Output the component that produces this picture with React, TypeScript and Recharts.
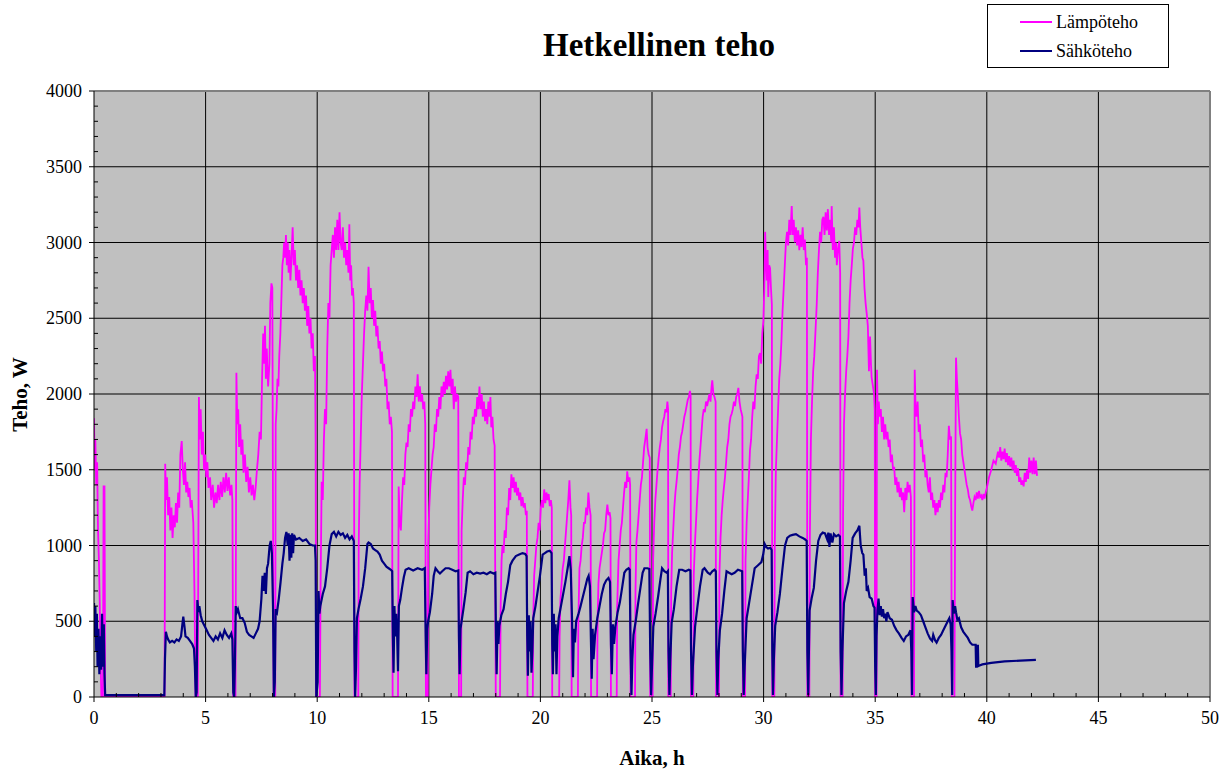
import { CartesianGrid, Line, LineChart, ReferenceLine, XAxis, YAxis } from 'recharts'

const HEAT = '#FF00FF'
const ELEC = '#000080'
const FONT = '"Liberation Serif", "Times New Roman", serif'

// major labelled ticks
const xMajor = [0, 5, 10, 15, 20, 25, 30, 35, 40, 45, 50]
const yMajor = [0, 500, 1000, 1500, 2000, 2500, 3000, 3500, 4000]
// all tick marks (minor every 1 h / 100 W)
const xTicks = Array.from({ length: 51 }, (_, i) => i)
const yTicks = Array.from({ length: 41 }, (_, i) => i * 100)

const seriesNames = ['Lämpöteho', 'Sähköteho']

// Lämpöteho, [aika h, teho W]
const heatPoints: [number, number][] = [
  [0, 1840], [0.03, 1500], [0.06, 1700], [0.1, 1400], [0.14, 1550], [0.18, 1100], [0.22, 900], [0.26, 600], [0.3, 200], [0.33, 0], [0.4, 0], [0.43, 1390], [0.47, 1390], [0.5, 0], [3.16, 0],
  [3.19, 1540], [3.23, 1300], [3.27, 1450], [3.32, 1200], [3.37, 1320], [3.42, 1100], [3.47, 1250], [3.52, 1050], [3.57, 1200], [3.62, 1120], [3.67, 1280], [3.72, 1150], [3.77, 1350], [3.82, 1250], [3.87, 1600], [3.93, 1690], [3.98, 1500], [4.03, 1400], [4.08, 1550], [4.13, 1350], [4.18, 1420], [4.23, 1320], [4.28, 1380], [4.33, 1250], [4.38, 1300], [4.45, 1150], [4.5, 700], [4.55, 0], [4.65, 0],
  [4.7, 1980], [4.74, 1700], [4.78, 1900], [4.83, 1600], [4.88, 1750], [4.93, 1500], [4.98, 1600], [5.03, 1450], [5.08, 1550], [5.13, 1380], [5.2, 1450], [5.25, 1300], [5.32, 1400], [5.38, 1250], [5.44, 1350], [5.5, 1280], [5.56, 1400], [5.62, 1300], [5.68, 1420], [5.74, 1320], [5.8, 1450], [5.86, 1350], [5.92, 1480], [5.98, 1360], [6.04, 1450], [6.1, 1330], [6.16, 1400], [6.2, 1300], [6.24, 0], [6.34, 0],
  [6.38, 2140], [6.42, 1800], [6.46, 1900], [6.5, 1650], [6.55, 1800], [6.6, 1600], [6.65, 1700], [6.7, 1480], [6.76, 1600], [6.82, 1420], [6.88, 1520], [6.94, 1350], [7.0, 1450], [7.06, 1330], [7.12, 1400], [7.18, 1300], [7.24, 1380], [7.3, 1500], [7.36, 1600], [7.42, 1750], [7.48, 1700], [7.53, 2100], [7.58, 2400], [7.62, 2200], [7.66, 2450], [7.7, 2100], [7.74, 2300], [7.8, 2050], [7.86, 2200], [7.9, 2600], [7.95, 2730], [7.99, 2700], [8.02, 1200], [8.05, 0], [8.12, 0],
  [8.14, 1800], [8.18, 1900], [8.22, 2100], [8.26, 2050], [8.3, 2250], [8.35, 2400], [8.4, 2650], [8.44, 2850], [8.48, 2900], [8.52, 3000], [8.56, 2900], [8.6, 3050], [8.64, 2850], [8.68, 3000], [8.72, 2800], [8.76, 2950], [8.8, 2750], [8.85, 2900], [8.9, 3100], [8.95, 2850], [9.0, 2950], [9.05, 2750], [9.1, 2850], [9.15, 2700], [9.2, 2820], [9.25, 2650], [9.3, 2750], [9.35, 2600], [9.4, 2700], [9.45, 2550], [9.5, 2650], [9.55, 2450], [9.6, 2580], [9.65, 2400], [9.7, 2500], [9.75, 2300], [9.8, 2400], [9.85, 2150], [9.9, 2250], [9.93, 1700], [9.95, 0], [10.12, 0],
  [10.15, 700], [10.2, 1420], [10.25, 1300], [10.3, 1700], [10.35, 1900], [10.4, 1800], [10.45, 2300], [10.5, 2600], [10.55, 2500], [10.6, 2850], [10.65, 2950], [10.7, 3050], [10.75, 2900], [10.8, 3100], [10.85, 2950], [10.9, 3150], [10.95, 2950], [11.0, 3200], [11.05, 3000], [11.1, 2950], [11.15, 3100], [11.2, 2900], [11.25, 3000], [11.3, 2850], [11.35, 2950], [11.4, 2800], [11.44, 3120], [11.48, 2750], [11.52, 2850], [11.56, 2650], [11.6, 2700], [11.64, 2600], [11.67, 0], [11.84, 0],
  [11.86, 1000], [11.9, 1400], [11.95, 1700], [12.0, 2000], [12.05, 2200], [12.1, 2400], [12.15, 2550], [12.2, 2650], [12.25, 2550], [12.3, 2840], [12.35, 2600], [12.4, 2700], [12.45, 2500], [12.5, 2620], [12.55, 2450], [12.6, 2550], [12.65, 2380], [12.7, 2450], [12.75, 2300], [12.8, 2350], [12.85, 2200], [12.9, 2280], [12.95, 2150], [13.0, 2200], [13.05, 2050], [13.1, 2100], [13.15, 1900], [13.2, 1950], [13.25, 1800], [13.3, 1850], [13.35, 1750], [13.38, 0], [13.62, 0],
  [13.65, 1390], [13.7, 1150], [13.75, 1100], [13.8, 1300], [13.85, 1450], [13.9, 1400], [13.95, 1600], [14.0, 1680], [14.05, 1650], [14.1, 1800], [14.15, 1750], [14.2, 1900], [14.25, 1850], [14.3, 1950], [14.35, 1900], [14.4, 2050], [14.45, 1980], [14.5, 2130], [14.55, 1950], [14.6, 2050], [14.65, 1950], [14.7, 2000], [14.75, 1900], [14.8, 1950], [14.84, 1800], [14.87, 0], [14.95, 0],
  [14.97, 1000], [15.02, 1250], [15.07, 1400], [15.12, 1500], [15.17, 1600], [15.22, 1650], [15.27, 1800], [15.32, 1750], [15.37, 1900], [15.42, 1850], [15.47, 1980], [15.52, 1900], [15.57, 2050], [15.62, 1980], [15.67, 2080], [15.72, 2000], [15.77, 2120], [15.82, 2030], [15.87, 2150], [15.92, 2050], [15.97, 2160], [16.02, 2000], [16.07, 2100], [16.12, 1900], [16.17, 2050], [16.22, 1950], [16.27, 2000], [16.32, 1980], [16.35, 0], [16.45, 0],
  [16.47, 1100], [16.52, 1300], [16.57, 1450], [16.62, 1400], [16.67, 1550], [16.72, 1500], [16.77, 1650], [16.82, 1600], [16.87, 1750], [16.92, 1700], [16.97, 1850], [17.02, 1800], [17.07, 1900], [17.12, 1850], [17.17, 1980], [17.22, 1900], [17.27, 2050], [17.32, 1900], [17.37, 2000], [17.42, 1850], [17.47, 1950], [17.52, 1820], [17.57, 1900], [17.62, 1800], [17.67, 1950], [17.72, 1850], [17.76, 1980], [17.8, 1780], [17.85, 1850], [17.9, 1700], [17.95, 1660], [18.0, 0], [18.19, 0],
  [18.22, 600], [18.26, 900], [18.3, 1000], [18.35, 950], [18.4, 1100], [18.45, 1050], [18.5, 1250], [18.55, 1200], [18.6, 1380], [18.65, 1300], [18.7, 1470], [18.75, 1380], [18.8, 1450], [18.85, 1350], [18.9, 1420], [18.95, 1330], [19.0, 1380], [19.05, 1300], [19.1, 1350], [19.15, 1260], [19.2, 1320], [19.25, 1250], [19.3, 1280], [19.35, 1200], [19.39, 1230], [19.42, 0], [19.66, 0],
  [19.68, 500], [19.72, 800], [19.77, 900], [19.82, 1000], [19.87, 1050], [19.92, 1150], [19.97, 1100], [20.02, 1250], [20.07, 1300], [20.12, 1250], [20.17, 1370], [20.22, 1280], [20.27, 1350], [20.32, 1300], [20.37, 1340], [20.42, 1260], [20.47, 1300], [20.51, 1250], [20.53, 0], [20.84, 0],
  [20.86, 400], [20.9, 650], [20.95, 750], [21.0, 850], [21.05, 900], [21.1, 1000], [21.15, 1100], [21.2, 1200], [21.25, 1300], [21.3, 1430], [21.35, 1250], [21.38, 1200], [21.4, 0], [21.68, 0],
  [21.7, 500], [21.75, 850], [21.8, 900], [21.85, 1000], [21.9, 1050], [21.95, 1150], [22.0, 1150], [22.05, 1250], [22.1, 1200], [22.15, 1350], [22.2, 1250], [22.25, 1200], [22.27, 0], [22.54, 0],
  [22.56, 500], [22.6, 750], [22.65, 850], [22.7, 900], [22.75, 950], [22.8, 1000], [22.85, 1080], [22.9, 1100], [22.95, 1200], [23.0, 1270], [23.05, 1200], [23.1, 1220], [23.14, 1180], [23.16, 0], [23.42, 0],
  [23.44, 600], [23.5, 900], [23.55, 1000], [23.6, 1100], [23.65, 1150], [23.7, 1250], [23.75, 1350], [23.8, 1420], [23.85, 1380], [23.89, 1490], [23.94, 1420], [23.99, 1450], [24.02, 1400], [24.04, 0], [24.24, 0],
  [24.26, 700], [24.3, 1020], [24.35, 1100], [24.4, 1200], [24.45, 1300], [24.5, 1400], [24.55, 1450], [24.6, 1550], [24.65, 1650], [24.7, 1700], [24.76, 1770], [24.8, 1650], [24.85, 1600], [24.9, 1580], [24.92, 0], [25.03, 0],
  [25.05, 900], [25.1, 1150], [25.15, 1300], [25.2, 1400], [25.25, 1500], [25.3, 1580], [25.35, 1650], [25.4, 1700], [25.45, 1780], [25.5, 1820], [25.55, 1850], [25.6, 1900], [25.65, 1880], [25.69, 1950], [25.72, 1900], [25.73, 0], [25.84, 0],
  [25.86, 700], [25.9, 950], [25.95, 1100], [26.0, 1250], [26.05, 1350], [26.1, 1420], [26.15, 1500], [26.2, 1600], [26.25, 1650], [26.3, 1720], [26.35, 1750], [26.4, 1800], [26.45, 1850], [26.5, 1880], [26.55, 1920], [26.6, 1960], [26.65, 1980], [26.7, 2020], [26.73, 1990], [26.75, 0], [26.85, 0],
  [26.87, 800], [26.92, 1000], [26.97, 1150], [27.02, 1300], [27.07, 1420], [27.12, 1550], [27.17, 1650], [27.22, 1750], [27.27, 1850], [27.32, 1900], [27.37, 1880], [27.42, 1950], [27.47, 1920], [27.52, 1960], [27.57, 2000], [27.62, 1950], [27.67, 2050], [27.7, 2090], [27.75, 2000], [27.8, 1980], [27.85, 1950], [27.87, 0], [28.0, 0],
  [28.02, 800], [28.07, 1050], [28.12, 1200], [28.17, 1300], [28.22, 1380], [28.27, 1450], [28.32, 1550], [28.37, 1650], [28.42, 1700], [28.47, 1800], [28.52, 1850], [28.57, 1870], [28.62, 1900], [28.67, 1950], [28.72, 1920], [28.77, 1980], [28.82, 2000], [28.87, 2040], [28.92, 1950], [28.97, 1900], [29.02, 1870], [29.05, 1850], [29.07, 0], [29.17, 0],
  [29.19, 900], [29.24, 1150], [29.29, 1300], [29.34, 1450], [29.39, 1630], [29.44, 1700], [29.49, 1850], [29.54, 1950], [29.59, 1900], [29.64, 2050], [29.69, 2130], [29.74, 2100], [29.79, 2250], [29.84, 2270], [29.89, 2200], [29.94, 2400], [29.99, 2480], [30.03, 2700], [30.07, 3070], [30.1, 2900], [30.14, 2750], [30.18, 2950], [30.21, 2640], [30.25, 2850], [30.29, 2830], [30.33, 2700], [30.37, 2590], [30.39, 0], [30.48, 0],
  [30.5, 1000], [30.55, 1500], [30.6, 1700], [30.65, 1900], [30.7, 2100], [30.75, 2200], [30.8, 2350], [30.85, 2550], [30.9, 2700], [30.95, 2850], [31.0, 3000], [31.05, 3070], [31.1, 2980], [31.15, 3150], [31.2, 3050], [31.26, 3240], [31.3, 3050], [31.35, 3150], [31.4, 3000], [31.45, 3100], [31.5, 2980], [31.55, 3080], [31.6, 2950], [31.65, 3050], [31.7, 2970], [31.75, 3100], [31.8, 2950], [31.85, 3020], [31.9, 2850], [31.94, 2900], [31.96, 0], [32.05, 0],
  [32.07, 1000], [32.12, 1700], [32.17, 1950], [32.22, 2150], [32.27, 2250], [32.32, 2400], [32.38, 2590], [32.43, 2800], [32.48, 2950], [32.53, 3070], [32.58, 3000], [32.63, 3150], [32.68, 3170], [32.73, 3050], [32.78, 3200], [32.83, 3080], [32.88, 3220], [32.93, 3050], [32.98, 3150], [33.03, 3000], [33.05, 3240], [33.1, 2950], [33.15, 3100], [33.2, 2900], [33.25, 3000], [33.28, 2850], [33.33, 2950], [33.39, 3010], [33.43, 2800], [33.45, 0], [33.54, 0],
  [33.56, 1200], [33.6, 1800], [33.65, 2000], [33.7, 2150], [33.75, 2250], [33.8, 2380], [33.85, 2600], [33.9, 2750], [33.95, 2850], [34.0, 2960], [34.05, 3000], [34.1, 3100], [34.15, 3050], [34.2, 3150], [34.25, 3100], [34.29, 3230], [34.33, 3100], [34.38, 3000], [34.43, 2900], [34.47, 2880], [34.52, 2700], [34.57, 2600], [34.62, 2530], [34.67, 2450], [34.72, 2150], [34.77, 2380], [34.81, 2200], [34.84, 2110], [34.9, 2050], [34.95, 2000], [34.98, 1900], [35.0, 0], [35.06, 0],
  [35.08, 2160], [35.12, 1800], [35.16, 1950], [35.2, 1850], [35.25, 1900], [35.3, 1750], [35.35, 1850], [35.4, 1700], [35.45, 1800], [35.5, 1700], [35.55, 1750], [35.6, 1650], [35.65, 1700], [35.7, 1550], [35.75, 1600], [35.8, 1500], [35.85, 1520], [35.9, 1400], [35.95, 1450], [36.0, 1350], [36.05, 1420], [36.1, 1320], [36.15, 1380], [36.2, 1300], [36.25, 1350], [36.3, 1220], [36.35, 1380], [36.4, 1300], [36.45, 1420], [36.5, 1350], [36.55, 1400], [36.6, 1320], [36.63, 0], [36.74, 0],
  [36.77, 2160], [36.81, 1900], [36.85, 1850], [36.9, 1950], [36.95, 1750], [37.0, 1800], [37.05, 1650], [37.1, 1700], [37.15, 1550], [37.2, 1600], [37.25, 1450], [37.3, 1500], [37.35, 1400], [37.4, 1350], [37.45, 1450], [37.5, 1300], [37.55, 1350], [37.6, 1250], [37.65, 1300], [37.7, 1200], [37.75, 1280], [37.8, 1220], [37.85, 1300], [37.9, 1250], [37.95, 1350], [38.0, 1300], [38.05, 1400], [38.1, 1350], [38.15, 1480], [38.2, 1450], [38.25, 1600], [38.3, 1790], [38.35, 1700], [38.4, 1720], [38.43, 0], [38.55, 0],
  [38.58, 1200], [38.62, 2240], [38.66, 2100], [38.7, 2000], [38.75, 1850], [38.8, 1740], [38.85, 1700], [38.9, 1600], [38.95, 1550], [39.0, 1500], [39.05, 1450], [39.1, 1400], [39.15, 1370], [39.2, 1320], [39.25, 1300], [39.3, 1260], [39.35, 1230], [39.4, 1280], [39.45, 1320], [39.5, 1300], [39.55, 1350], [39.6, 1310], [39.65, 1360], [39.7, 1320], [39.75, 1330], [39.8, 1300], [39.85, 1340], [39.9, 1310], [39.95, 1350], [40.0, 1380], [40.1, 1450], [40.2, 1500], [40.3, 1560], [40.4, 1540], [40.5, 1620], [40.55, 1580], [40.6, 1650], [40.65, 1560], [40.7, 1620], [40.75, 1570], [40.8, 1640], [40.85, 1550], [40.9, 1610], [40.95, 1530], [41.0, 1590], [41.05, 1520], [41.1, 1580], [41.15, 1500], [41.2, 1560], [41.25, 1480], [41.3, 1530], [41.35, 1460], [41.4, 1510], [41.45, 1420], [41.5, 1450], [41.55, 1400], [41.6, 1430], [41.65, 1390], [41.7, 1480], [41.75, 1420], [41.8, 1500], [41.85, 1440], [41.9, 1580], [41.95, 1480], [42.0, 1560], [42.05, 1470], [42.1, 1580], [42.15, 1470], [42.2, 1560], [42.25, 1460],
]

// Sähköteho, [aika h, teho W]
const elecPoints: [number, number][] = [
  [0, 620], [0.03, 400], [0.06, 600], [0.1, 300], [0.13, 550], [0.16, 200], [0.2, 450], [0.24, 150], [0.28, 400], [0.32, 180], [0.36, 550], [0.4, 200], [0.44, 480], [0.47, 150], [0.5, 13], [3.15, 13],
  [3.18, 250], [3.22, 430], [3.27, 400], [3.32, 380], [3.4, 360], [3.5, 370], [3.6, 360], [3.7, 380], [3.8, 370], [3.9, 400], [3.96, 480], [4.0, 530], [4.05, 470], [4.1, 400], [4.2, 390], [4.3, 370], [4.4, 350], [4.48, 320], [4.52, 200], [4.56, 0], [4.6, 30], [4.63, 640], [4.68, 560], [4.72, 600], [4.78, 540], [4.85, 500], [4.95, 470], [5.05, 440], [5.15, 410], [5.25, 390], [5.35, 370], [5.45, 400], [5.55, 380], [5.65, 420], [5.75, 390], [5.85, 440], [5.95, 410], [6.05, 390], [6.15, 420], [6.2, 380], [6.24, 30], [6.28, 0], [6.31, 200],
  [6.35, 600], [6.4, 560], [6.45, 580], [6.55, 520], [6.65, 520], [6.75, 490], [6.85, 430], [6.95, 410], [7.05, 400], [7.15, 390], [7.25, 420], [7.35, 450], [7.42, 500], [7.5, 650], [7.55, 800], [7.6, 700], [7.65, 820], [7.7, 680], [7.75, 850], [7.8, 880], [7.87, 1000], [7.92, 1030], [7.97, 950], [8.02, 600], [8.06, 0], [8.1, 100],
  [8.14, 580], [8.2, 560], [8.28, 650], [8.36, 760], [8.44, 880], [8.5, 950], [8.56, 1050], [8.62, 1090], [8.68, 1000], [8.72, 1080], [8.76, 900], [8.8, 1070], [8.84, 920], [8.88, 1080], [8.92, 950], [8.96, 1070], [9.05, 1040], [9.2, 1050], [9.35, 1030], [9.5, 1040], [9.65, 1010], [9.8, 1000], [9.9, 1000], [9.93, 900], [9.96, 0], [10.02, 100],
  [10.06, 700], [10.1, 550], [10.14, 600], [10.25, 680], [10.35, 730], [10.45, 850], [10.55, 1000], [10.65, 1075], [10.75, 1090], [10.85, 1060], [10.95, 1090], [11.05, 1070], [11.15, 1080], [11.25, 1050], [11.35, 1070], [11.45, 1040], [11.55, 1060], [11.64, 1030], [11.67, 300], [11.7, 0], [11.74, 200],
  [11.78, 520], [11.85, 580], [11.95, 650], [12.05, 730], [12.15, 850], [12.25, 1010], [12.3, 1020], [12.4, 1010], [12.5, 980], [12.6, 970], [12.7, 960], [12.8, 940], [12.9, 900], [13.0, 880], [13.1, 860], [13.2, 850], [13.3, 840], [13.36, 830], [13.39, 400], [13.42, 160], [13.46, 600], [13.5, 400], [13.54, 550], [13.58, 420], [13.62, 170],
  [13.66, 600], [13.72, 640], [13.8, 720], [13.88, 790], [13.96, 840], [14.1, 850], [14.3, 835], [14.5, 850], [14.7, 840], [14.82, 850], [14.86, 400], [14.89, 150], [14.93, 450],
  [14.97, 500], [15.05, 560], [15.15, 680], [15.22, 800], [15.3, 850], [15.4, 830], [15.5, 815], [15.6, 830], [15.75, 850], [15.9, 850], [16.05, 840], [16.2, 830], [16.32, 835], [16.35, 400], [16.38, 150], [16.42, 450],
  [16.47, 500], [16.55, 580], [16.65, 690], [16.74, 820], [16.85, 830], [17.0, 810], [17.15, 820], [17.3, 815], [17.45, 820], [17.6, 810], [17.75, 825], [17.9, 815], [17.98, 820], [18.01, 400], [18.04, 150], [18.08, 500], [18.12, 350], [18.16, 470],
  [18.25, 540], [18.35, 580], [18.45, 680], [18.55, 760], [18.65, 870], [18.75, 900], [18.9, 930], [19.05, 940], [19.2, 950], [19.32, 945], [19.38, 930], [19.41, 400], [19.44, 140], [19.48, 540], [19.52, 300], [19.56, 500], [19.6, 160], [19.64, 300],
  [19.68, 520], [19.78, 600], [19.88, 700], [19.98, 800], [20.1, 940], [20.2, 950], [20.3, 960], [20.42, 965], [20.5, 950], [20.53, 350], [20.56, 150], [20.6, 550], [20.64, 300], [20.68, 480], [20.72, 150], [20.76, 400],
  [20.82, 520], [20.92, 600], [21.02, 680], [21.12, 760], [21.22, 850], [21.3, 930], [21.36, 840], [21.42, 500], [21.46, 130], [21.5, 450], [21.55, 360], [21.6, 500],
  [21.7, 545], [21.8, 600], [21.9, 660], [22.0, 720], [22.1, 780], [22.16, 800], [22.22, 730], [22.26, 400], [22.3, 120], [22.34, 450], [22.38, 250], [22.45, 410],
  [22.55, 520], [22.65, 600], [22.75, 680], [22.85, 740], [22.95, 770], [23.05, 785], [23.12, 760], [23.16, 350], [23.2, 150], [23.25, 480], [23.3, 350], [23.36, 465],
  [23.46, 560], [23.56, 625], [23.66, 720], [23.76, 820], [23.85, 840], [23.95, 850], [24.0, 840], [24.04, 300], [24.08, 13], [24.12, 250], [24.17, 410],
  [24.27, 500], [24.38, 620], [24.48, 720], [24.58, 820], [24.66, 850], [24.8, 850], [24.88, 845], [24.92, 300], [24.96, 13], [25.0, 200], [25.06, 465],
  [25.16, 550], [25.28, 670], [25.38, 780], [25.45, 850], [25.55, 830], [25.66, 820], [25.71, 830], [25.74, 300], [25.78, 13], [25.82, 250], [25.88, 490],
  [25.98, 580], [26.1, 730], [26.22, 840], [26.35, 840], [26.5, 830], [26.65, 840], [26.72, 835], [26.75, 300], [26.79, 13], [26.83, 200], [26.93, 465],
  [27.03, 590], [27.15, 730], [27.27, 840], [27.35, 850], [27.5, 820], [27.6, 810], [27.7, 830], [27.8, 840], [27.86, 830], [27.89, 300], [27.93, 13], [27.97, 250], [28.04, 440],
  [28.14, 550], [28.24, 700], [28.34, 830], [28.45, 820], [28.57, 810], [28.7, 820], [28.85, 840], [28.95, 835], [29.04, 830], [29.07, 300], [29.11, 13], [29.15, 200], [29.24, 520],
  [29.35, 620], [29.47, 730], [29.6, 850], [29.75, 870], [29.9, 890], [29.98, 940], [30.05, 1010], [30.12, 990], [30.2, 980], [30.3, 985], [30.36, 970], [30.39, 300], [30.42, 13], [30.46, 250], [30.52, 470],
  [30.62, 560], [30.73, 680], [30.84, 840], [30.96, 1000], [31.06, 1050], [31.18, 1065], [31.3, 1070], [31.45, 1075], [31.6, 1060], [31.75, 1050], [31.86, 1040], [31.93, 1030], [31.96, 300], [32.0, 13], [32.03, 300], [32.06, 570],
  [32.15, 650], [32.25, 720], [32.35, 900], [32.45, 1030], [32.55, 1070], [32.65, 1085], [32.75, 1080], [32.85, 1040], [32.9, 1085], [32.95, 990], [33.0, 1080], [33.08, 1020], [33.15, 1075], [33.25, 1060], [33.35, 1070], [33.42, 1060], [33.45, 300], [33.49, 13], [33.53, 300],
  [33.6, 620], [33.7, 700], [33.8, 760], [33.9, 900], [33.99, 1050], [34.1, 1080], [34.2, 1100], [34.29, 1130], [34.35, 1000], [34.42, 950], [34.47, 940], [34.53, 800], [34.58, 850], [34.62, 700], [34.68, 720], [34.75, 660], [34.84, 650], [34.92, 600], [34.97, 590], [35.0, 200], [35.03, 13], [35.06, 400],
  [35.1, 570], [35.15, 650], [35.2, 540], [35.25, 600], [35.3, 530], [35.35, 580], [35.4, 520], [35.45, 550], [35.5, 500], [35.55, 560], [35.65, 520], [35.75, 510], [35.85, 470], [35.96, 440], [36.06, 420], [36.18, 390], [36.28, 370], [36.38, 400], [36.48, 410], [36.58, 440], [36.62, 300], [36.65, 13],
  [36.68, 660], [36.74, 560], [36.8, 600], [36.86, 570], [36.95, 560], [37.05, 540], [37.15, 500], [37.25, 460], [37.35, 420], [37.46, 385], [37.55, 370], [37.6, 410], [37.68, 375], [37.75, 360], [37.85, 390], [37.95, 410], [38.05, 440], [38.15, 470], [38.25, 500], [38.32, 520], [38.38, 480], [38.42, 300], [38.45, 13],
  [38.47, 640], [38.52, 550], [38.58, 600], [38.62, 560], [38.68, 510], [38.75, 520], [38.85, 460], [38.95, 430], [39.05, 410], [39.15, 390], [39.25, 360], [39.35, 345], [39.5, 345], [39.52, 200], [39.58, 200], [39.6, 345], [39.62, 205], [39.8, 215], [40.2, 225], [40.8, 235], [41.5, 240], [42.2, 245],
]

const heatData = heatPoints.map(([t, w]) => ({ t, w }))
const elecData = elecPoints.map(([t, w]) => ({ t, w }))

const tickText = { fontFamily: FONT, fontSize: 18 }

function YTick(props: any) {
  const { x, y, payload } = props
  const major = payload.value % 500 === 0
  if (!major) {
    return <line x1={x} x2={x + 4} y1={y} y2={y} stroke="#000" />
  }
  return (
    <g>
      <line x1={x - 5} x2={x} y1={y} y2={y} stroke="#000" />
      <text x={x - 12} y={y} dy={6} textAnchor="end" style={tickText} fill="#000">
        {payload.value}
      </text>
    </g>
  )
}

function XTick(props: any) {
  const { x, y, payload } = props
  const major = payload.value % 5 === 0
  if (!major) {
    return <line x1={x} x2={x} y1={y - 4} y2={y} stroke="#000" />
  }
  return (
    <g>
      <line x1={x} x2={x} y1={y} y2={y + 5} stroke="#000" />
      <text x={x} y={y + 27} textAnchor="middle" style={tickText} fill="#000">
        {payload.value}
      </text>
    </g>
  )
}

export default function App() {
  return (
    <div
      style={{
        position: 'absolute',
        left: 0,
        top: 0,
        width: 1230,
        height: 771,
        background: '#fff',
        fontFamily: FONT,
      }}
    >
      <LineChart width={1230} height={771} margin={{ top: 91, right: 20, bottom: 44, left: 34 }}>
        <CartesianGrid
          fill="#C0C0C0"
          stroke="#000"
          horizontalValues={yMajor.slice(1, -1)}
          verticalValues={xMajor.slice(1, -1)}
        />
        <XAxis
          type="number"
          dataKey="t"
          domain={[0, 50]}
          ticks={xTicks}
          interval={0}
          height={30}
          tickSize={0}
          tickMargin={0}
          tickLine={false}
          axisLine={{ stroke: '#000' }}
          tick={XTick}
          allowDataOverflow
        />
        <YAxis
          type="number"
          domain={[0, 4000]}
          ticks={yTicks}
          interval={0}
          width={60}
          tickSize={0}
          tickMargin={0}
          tickLine={false}
          axisLine={{ stroke: '#000' }}
          tick={YTick}
          allowDataOverflow
        />
        <ReferenceLine y={4000} stroke="#808080" strokeWidth={2} />
        <ReferenceLine x={50} stroke="#808080" strokeWidth={2} />
        <Line
          data={heatData}
          dataKey="w"
          name={seriesNames[0]}
          stroke={HEAT}
          strokeWidth={1.8}
          dot={false}
          isAnimationActive={false}
        />
        <Line
          data={elecData}
          dataKey="w"
          name={seriesNames[1]}
          stroke={ELEC}
          strokeWidth={2.2}
          dot={false}
          isAnimationActive={false}
        />
      </LineChart>

      <div
        style={{
          position: 'absolute',
          left: 659,
          top: 29,
          transform: 'translateX(-50%)',
          fontSize: 33,
          lineHeight: '33px',
          fontWeight: 'bold',
          whiteSpace: 'nowrap',
        }}
      >
        Hetkellinen teho
      </div>

      <div
        style={{
          position: 'absolute',
          left: 652,
          top: 748,
          transform: 'translateX(-50%)',
          fontSize: 21,
          lineHeight: '21px',
          fontWeight: 'bold',
          whiteSpace: 'nowrap',
        }}
      >
        Aika, h
      </div>

      <div
        style={{
          position: 'absolute',
          left: 20 - 100,
          top: 394 - 10.5,
          width: 200,
          height: 21,
          textAlign: 'center',
          transform: 'rotate(-90deg)',
          fontSize: 21,
          lineHeight: '21px',
          fontWeight: 'bold',
          whiteSpace: 'nowrap',
        }}
      >
        Teho, W
      </div>

      <div
        style={{
          position: 'absolute',
          left: 987,
          top: 4,
          width: 180,
          height: 62,
          border: '1px solid #000',
          background: '#fff',
          fontSize: 18,
        }}
      >
        {seriesNames.map((name, i) => (
          <div
            key={name}
            style={{
              position: 'absolute',
              left: 32,
              top: 6 + i * 29,
              height: 22,
              display: 'flex',
              alignItems: 'center',
              whiteSpace: 'nowrap',
            }}
          >
            <span
              style={{
                display: 'inline-block',
                width: 32,
                height: 2,
                background: i === 0 ? HEAT : ELEC,
                marginRight: 4,
              }}
            />
            {name}
          </div>
        ))}
      </div>
    </div>
  )
}
